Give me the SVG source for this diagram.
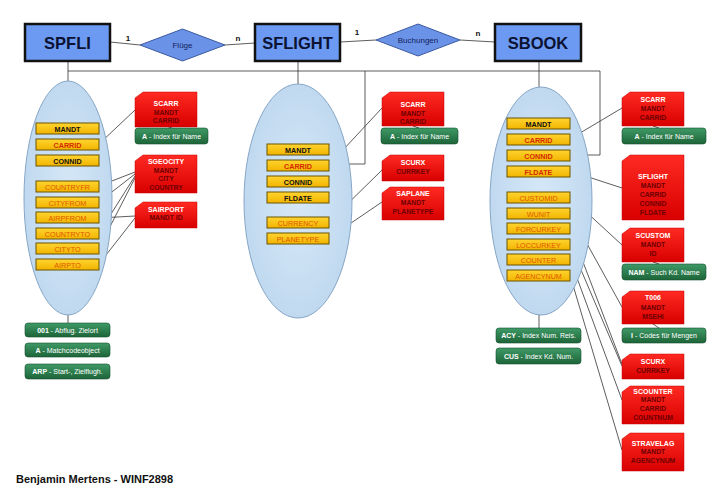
<svg xmlns="http://www.w3.org/2000/svg" width="720" height="498" viewBox="0 0 720 498">
<defs>
<linearGradient id="gRed" x1="0" y1="0" x2="0" y2="1"><stop offset="0" stop-color="#ff2a22"/><stop offset="1" stop-color="#d80000"/></linearGradient>
<linearGradient id="gGreen" x1="0" y1="0" x2="0" y2="1"><stop offset="0" stop-color="#3f9a66"/><stop offset="1" stop-color="#1d6438"/></linearGradient>
<linearGradient id="gAttr" x1="0" y1="0" x2="0" y2="1"><stop offset="0" stop-color="#ffd430"/><stop offset="1" stop-color="#f2b400"/></linearGradient>
<radialGradient id="gEll" cx="0.5" cy="0.5" r="0.6"><stop offset="0" stop-color="#d6e8f7"/><stop offset="1" stop-color="#bcd6ee"/></radialGradient>
</defs>
<style>
text{font-family:"Liberation Sans",Arial,sans-serif}
.ent{fill:#6c9af2;stroke:#111;stroke-width:2.5}
.entt{font-size:16.5px;font-weight:bold;fill:#0b1233;text-anchor:middle}
.dia{fill:#6a93e8;stroke:#3c5aa0;stroke-width:1}
.diat{font-size:8px;fill:#13205a;text-anchor:middle}
.card{font-size:8px;font-weight:bold;fill:#111;text-anchor:middle}
.ell{fill:url(#gEll);stroke:#86a6c6;stroke-width:1}
.at{fill:url(#gAttr);stroke:#6b5500;stroke-width:1}
.att{font-size:7.2px;text-anchor:middle}
.k{font-weight:bold;fill:#111}
.r{font-weight:bold;fill:#d42a00}
.o{fill:#e05800}
.red{fill:url(#gRed);stroke:#c40000;stroke-width:0.5}
.rt{font-size:7px;font-weight:bold;fill:#fff;text-anchor:middle}
.rc{font-size:6.8px;font-weight:bold;fill:#6e0000;text-anchor:middle}
.gr{fill:url(#gGreen);stroke:#155030;stroke-width:0.6}
.gt{font-size:7px;fill:#fff;text-anchor:middle}
.gt tspan.b{font-weight:bold}
.ln{fill:none;stroke:#333;stroke-width:0.8}
.foot{font-size:11px;font-weight:bold;fill:#111}
</style>

<g id="connectors">
<path class="ln" d="M110,42 L140,45 M225,45 L255,43 M340,42 L376,40 M460,40 L495,42"/>
<path class="ln" d="M68,61 V81 M298,61 V84 M539,61 V87 M68,71 H600 V155 H570 M365,71 V164 H329"/>
<path class="ln" d="M68,315 V323 M539,315 V328"/>
<path class="ln" d="M99,144 L135,110 M99,186 L135,172 M99,202 L135,174 M99,233 L135,176 M99,248 L135,178 M99,218 L135,216 M99,264 L135,218"/>
<path class="ln" d="M329,165 L382,108 M329,222 L382,170 M329,238 L382,202"/>
<path class="ln" d="M570,139 L622,108 M570,171 L622,188 M570,197 L622,245 M570,213 L622,307 M570,228 L622,364 M570,244 L622,366 M570,259 L622,400 M570,275 L622,450"/>
<path class="ln" d="M166,126 L172,128 M413,126 L419,128 M653,126 L659,128 M653,262 L659,264 M653,324 L659,328"/>
</g>

<g id="SPFLI"><rect class="ent" x="25" y="24" width="85" height="37"/><text class="entt" x="67.5" y="49">SPFLI</text></g>
<g id="SFLIGHT"><rect class="ent" x="255" y="24" width="85" height="37"/><text class="entt" x="297.5" y="49">SFLIGHT</text></g>
<g id="SBOOK"><rect class="ent" x="495" y="24" width="86" height="37"/><text class="entt" x="538" y="49">SBOOK</text></g>
<g id="Fluege"><polygon class="dia" points="140,45 182.5,29 225,45 182.5,61"/><text class="diat" x="182.5" y="48">Flüge</text></g>
<g id="Buchungen"><polygon class="dia" points="376,40 418,24 460,40 418,56"/><text class="diat" x="418" y="43">Buchungen</text></g>
<g id="cards">
<text class="card" x="128" y="41">1</text><text class="card" x="238" y="41">n</text>
<text class="card" x="357" y="35">1</text><text class="card" x="478" y="36">n</text>
</g>

<g id="ell-spfli"><ellipse class="ell" cx="68" cy="198" rx="44" ry="117"/>
<rect class="at" x="36" y="123" width="63" height="11"/><text class="att k" x="67.5" y="131.5">MANDT</text>
<rect class="at" x="36" y="139" width="63" height="11"/><text class="att r" x="67.5" y="147.5">CARRID</text>
<rect class="at" x="36" y="155" width="63" height="11"/><text class="att k" x="67.5" y="163.5">CONNID</text>
<rect class="at" x="36" y="181" width="63" height="11"/><text class="att o" x="67.5" y="189.5">COUNTRYFR</text>
<rect class="at" x="36" y="197" width="63" height="11"/><text class="att o" x="67.5" y="205.5">CITYFROM</text>
<rect class="at" x="36" y="212" width="63" height="11"/><text class="att o" x="67.5" y="220.5">AIRPFROM</text>
<rect class="at" x="36" y="228" width="63" height="11"/><text class="att o" x="67.5" y="236.5">COUNTRYTO</text>
<rect class="at" x="36" y="243" width="63" height="11"/><text class="att o" x="67.5" y="251.5">CITYTO</text>
<rect class="at" x="36" y="259" width="63" height="11"/><text class="att o" x="67.5" y="267.5">AIRPTO</text>
</g>

<g id="ell-sflight"><ellipse class="ell" cx="298" cy="201" rx="54" ry="117"/>
<rect class="at" x="267" y="144" width="62" height="11"/><text class="att k" x="298" y="152.5">MANDT</text>
<rect class="at" x="267" y="160" width="62" height="11"/><text class="att r" x="298" y="168.5">CARRID</text>
<rect class="at" x="267" y="176" width="62" height="11"/><text class="att k" x="298" y="184.5">CONNID</text>
<rect class="at" x="267" y="192" width="62" height="11"/><text class="att k" x="298" y="200.5">FLDATE</text>
<rect class="at" x="267" y="217" width="62" height="11"/><text class="att o" x="298" y="225.5">CURRENCY</text>
<rect class="at" x="267" y="233" width="62" height="11"/><text class="att o" x="298" y="241.5">PLANETYPE</text>
</g>

<g id="ell-sbook"><ellipse class="ell" cx="541" cy="201" rx="51" ry="114"/>
<rect class="at" x="507" y="118" width="63" height="11"/><text class="att k" x="538.5" y="126.5">MANDT</text>
<rect class="at" x="507" y="134" width="63" height="11"/><text class="att r" x="538.5" y="142.5">CARRID</text>
<rect class="at" x="507" y="150" width="63" height="11"/><text class="att r" x="538.5" y="158.5">CONNID</text>
<rect class="at" x="507" y="166" width="63" height="11"/><text class="att r" x="538.5" y="174.5">FLDATE</text>
<rect class="at" x="507" y="192" width="63" height="11"/><text class="att o" x="538.5" y="200.5">CUSTOMID</text>
<rect class="at" x="507" y="208" width="63" height="11"/><text class="att o" x="538.5" y="216.5">WUNIT</text>
<rect class="at" x="507" y="223" width="63" height="11"/><text class="att o" x="538.5" y="231.5">FORCURKEY</text>
<rect class="at" x="507" y="239" width="63" height="11"/><text class="att o" x="538.5" y="247.5">LOCCURKEY</text>
<rect class="at" x="507" y="254" width="63" height="11"/><text class="att o" x="538.5" y="262.5">COUNTER</text>
<rect class="at" x="507" y="270" width="63" height="11"/><text class="att o" x="538.5" y="278.5">AGENCYNUM</text>
</g>

<g id="scarr1"><path class="red" d="M143,92 H197 V127 H135 V98 Z"/><text class="rt" x="166" y="105.5">SCARR</text><text class="rc" x="166" y="114.5">MANDT</text><text class="rc" x="166" y="123">CARRID</text></g>
<g id="idx-a1"><rect class="gr" x="135" y="128" width="73" height="16" rx="3"/><text class="gt" x="171.5" y="138.5"><tspan class="b">A</tspan> - Index für Name</text></g>
<g id="sgeocity"><path class="red" d="M143,155 H197 V193 H135 V161 Z"/><text class="rt" x="166" y="163.5">SGEOCITY</text><text class="rc" x="166" y="172.5">MANDT</text><text class="rc" x="166" y="180.5">CITY</text><text class="rc" x="166" y="189.5">COUNTRY</text></g>
<g id="sairport"><path class="red" d="M143,202 H197 V228 H135 V208 Z"/><text class="rt" x="166" y="211.5">SAIRPORT</text><text class="rc" x="166" y="219.5">MANDT ID</text></g>
<g id="idx-001"><rect class="gr" x="25" y="323" width="85" height="14" rx="3"/><text class="gt" x="67.5" y="332.5"><tspan class="b">001</tspan> - Abflug. Zielort</text></g>
<g id="idx-a-mc"><rect class="gr" x="25" y="343" width="85" height="14" rx="3"/><text class="gt" x="67.5" y="352.5"><tspan class="b">A</tspan> - Matchcodeobject</text></g>
<g id="idx-arp"><rect class="gr" x="25" y="364" width="85" height="15" rx="3"/><text class="gt" x="67.5" y="374"><tspan class="b">ARP</tspan> - Start-, Zielflugh.</text></g>

<g id="scarr2"><path class="red" d="M390,92 H444 V126 H382 V98 Z"/><text class="rt" x="413" y="106.5">SCARR</text><text class="rc" x="413" y="115.5">MANDT</text><text class="rc" x="413" y="123.5">CARRID</text></g>
<g id="idx-a2"><rect class="gr" x="381" y="128" width="77" height="16" rx="3"/><text class="gt" x="419.5" y="138.5"><tspan class="b">A</tspan> - Index für Name</text></g>
<g id="scurx1"><path class="red" d="M390,155 H444 V181 H382 V161 Z"/><text class="rt" x="413" y="164.5">SCURX</text><text class="rc" x="413" y="173.5">CURRKEY</text></g>
<g id="saplane"><path class="red" d="M390,187 H444 V220 H382 V193 Z"/><text class="rt" x="413" y="195.5">SAPLANE</text><text class="rc" x="413" y="204.5">MANDT</text><text class="rc" x="413" y="213.5">PLANETYPE</text></g>

<g id="scarr3"><path class="red" d="M630,92 H684 V126 H622 V98 Z"/><text class="rt" x="653" y="101.5">SCARR</text><text class="rc" x="653" y="110.5">MANDT</text><text class="rc" x="653" y="119.5">CARRID</text></g>
<g id="idx-a3"><rect class="gr" x="622" y="128" width="84" height="16" rx="3"/><text class="gt" x="664" y="138.5"><tspan class="b">A</tspan> - Index für Name</text></g>
<g id="sflight-r"><path class="red" d="M630,155 H684 V220 H622 V161 Z"/><text class="rt" x="653" y="178.5">SFLIGHT</text><text class="rc" x="653" y="187.5">MANDT</text><text class="rc" x="653" y="196.5">CARRID</text><text class="rc" x="653" y="205.5">CONNID</text><text class="rc" x="653" y="214.5">FLDATE</text></g>
<g id="scustom"><path class="red" d="M630,228 H684 V262 H622 V234 Z"/><text class="rt" x="653" y="237.5">SCUSTOM</text><text class="rc" x="653" y="246.5">MANDT</text><text class="rc" x="653" y="255.5">ID</text></g>
<g id="idx-nam"><rect class="gr" x="622" y="264" width="84" height="16" rx="3"/><text class="gt" x="664" y="274.5"><tspan class="b">NAM</tspan> - Such Kd. Name</text></g>
<g id="t006"><path class="red" d="M630,291 H684 V324 H622 V297 Z"/><text class="rt" x="653" y="299.5">T006</text><text class="rc" x="653" y="309.5">MANDT</text><text class="rc" x="653" y="318.5">MSEHI</text></g>
<g id="idx-i"><rect class="gr" x="622" y="328" width="84" height="15" rx="3"/><text class="gt" x="664" y="338"><tspan class="b">I</tspan> - Codes für Mengen</text></g>
<g id="scurx2"><path class="red" d="M630,354 H684 V379 H622 V360 Z"/><text class="rt" x="653" y="363.5">SCURX</text><text class="rc" x="653" y="372.5">CURRKEY</text></g>
<g id="scounter"><path class="red" d="M630,386 H684 V424 H622 V392 Z"/><text class="rt" x="653" y="393.5">SCOUNTER</text><text class="rc" x="653" y="401.5">MANDT</text><text class="rc" x="653" y="410.5">CARRID</text><text class="rc" x="653" y="419.5">COUNTNUM</text></g>
<g id="stravelag"><path class="red" d="M630,433 H684 V471 H622 V439 Z"/><text class="rt" x="653" y="445.5">STRAVELAG</text><text class="rc" x="653" y="453.5">MANDT</text><text class="rc" x="653" y="462.5">AGENCYNUM</text></g>
<g id="idx-acy"><rect class="gr" x="496" y="328" width="85" height="15" rx="3"/><text class="gt" x="538.5" y="338"><tspan class="b">ACY</tspan> - Index Num. Reis.</text></g>
<g id="idx-cus"><rect class="gr" x="496" y="348" width="85" height="16" rx="3"/><text class="gt" x="538.5" y="358.5"><tspan class="b">CUS</tspan> - Index Kd. Num.</text></g>

<g id="footer"><text class="foot" x="16" y="483">Benjamin Mertens - WINF2898</text></g>
</svg>
